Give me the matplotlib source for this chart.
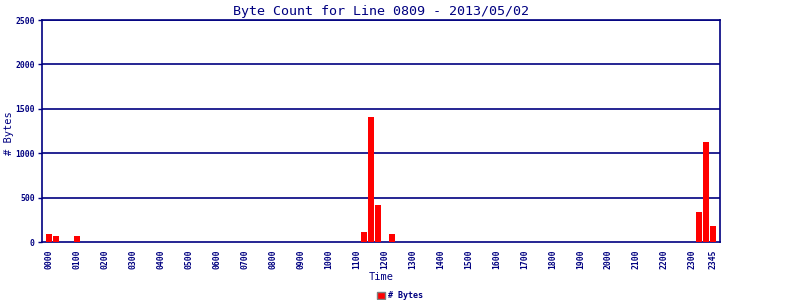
import matplotlib
matplotlib.use('Agg')
import matplotlib.pyplot as plt
import numpy as np

# 15-minute slots over the day
times = ['%02d%02d' % (h, m) for h in range(24) for m in (0, 15, 30, 45)]
# slots with traffic, the rest are zero
busy_times = ['0000', '0015', '0100', '1115', '1130', '1145', '1215', '2315', '2330', '2345']
busy_bytes = [90, 68, 68, 113, 1408, 417, 90, 338, 1126, 180]
tick_labels = [t for t in times if t.endswith('00')] + ['2345']

byte_count = np.zeros(len(times))
for t, b in zip(busy_times, busy_bytes):
    byte_count[times.index(t)] = b

navy = '#000080'
mono = 'DejaVu Sans Mono'

fig = plt.figure(figsize=(8, 3), dpi=100)
ax = fig.add_axes([0.052, 0.193, 0.848, 0.74])

x = np.arange(len(times))
ax.bar(x, byte_count, width=0.86, color='#ff0000', label='# Bytes', zorder=3)

ax.set_xlim(-1.05, 95.95)
ax.set_ylim(0, 2500)
ax.set_yticks(np.arange(0, 2501, 500))
for y in np.arange(500, 2501, 500):
    ax.axhline(y, color=navy, lw=1.2, zorder=2)

ax.set_xticks([times.index(t) for t in tick_labels])
ax.set_xticklabels(tick_labels, rotation=90)
for lab in ax.get_xticklabels() + ax.get_yticklabels():
    lab.set_fontfamily(mono)
    lab.set_fontsize(5.8)
    lab.set_fontweight('bold')
    lab.set_color(navy)
ax.tick_params(axis='y', length=3, width=1, color=navy, pad=2)
ax.tick_params(axis='x', length=0, pad=5)
for s in ax.spines.values():
    s.set_color(navy)
    s.set_linewidth(1.2)

ax.set_title('Byte Count for Line 0809 - 2013/05/02', fontfamily=mono,
             fontsize=9.6, color=navy, pad=4)
ax.set_xlabel('Time', fontfamily=mono, fontsize=7.5, color=navy)
ax.xaxis.set_label_coords(0.5, -0.135)
ax.set_ylabel('# Bytes', fontfamily=mono, fontsize=7.5, color=navy)
ax.yaxis.set_label_coords(-0.041, 0.49)

leg = fig.legend(loc='center', bbox_to_anchor=(0.5, 0.014), frameon=False,
                 prop={'family': mono, 'size': 6, 'weight': 'bold'},
                 handlelength=1.0, handleheight=0.9, handletextpad=0.3,
                 borderpad=0)
for h in leg.legend_handles:
    h.set_edgecolor('#808080')
    h.set_linewidth(1)
for t in leg.get_texts():
    t.set_color(navy)

fig.savefig('out.png', dpi=100)
